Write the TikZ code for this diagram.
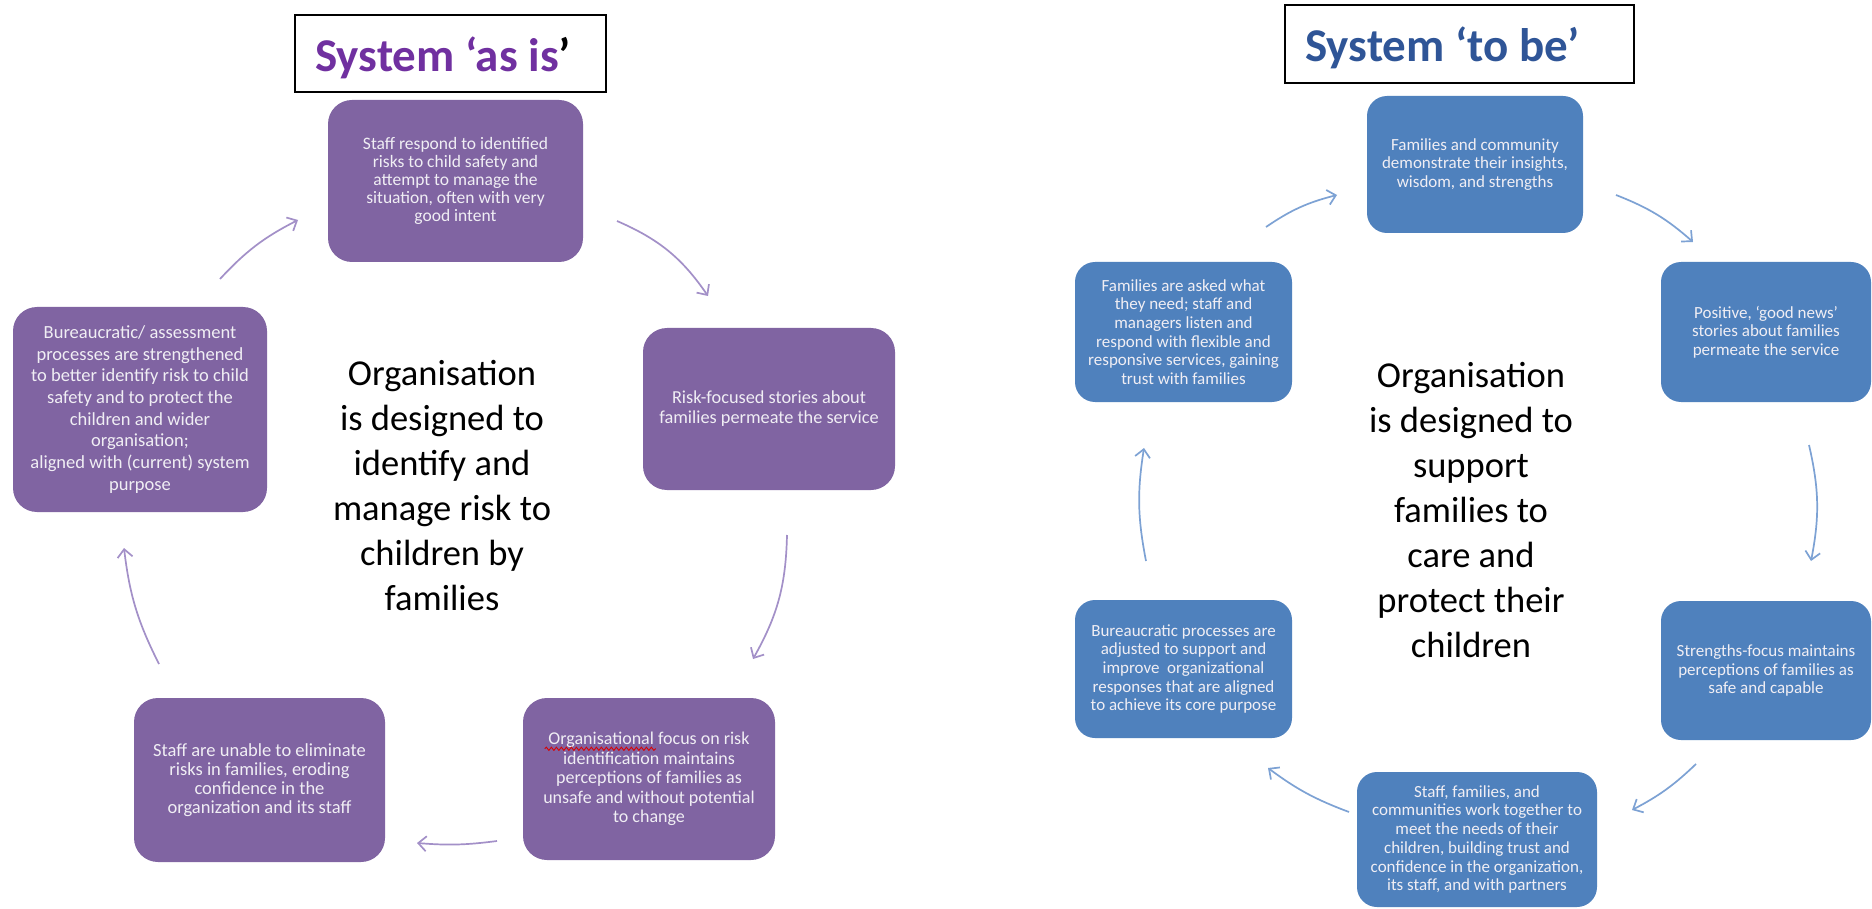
\documentclass[tikz,border=0pt]{standalone}
\usepackage{fontspec}
\setmainfont{Carlito}
\usetikzlibrary{arrows.meta,decorations.pathmorphing,calc}
\definecolor{pfill}{HTML}{8064A2}
\definecolor{parrow}{HTML}{A390C8}
\definecolor{bfill}{HTML}{4F81BD}
\definecolor{barrow}{HTML}{7DA2D4}
\definecolor{ptitle}{HTML}{7030A0}
\definecolor{btitle}{HTML}{2F5597}
\definecolor{boxtext}{HTML}{F0EEF4}
\newcommand\fsz[2]{\fontsize{#1pt}{#2pt}\selectfont}
\begin{document}
\begin{tikzpicture}[x=1pt,y=-1pt,
  pbox/.style={rectangle, rounded corners=24pt, fill=pfill, text=boxtext, align=center, inner sep=0pt},
  bbox/.style={rectangle, rounded corners=20pt, fill=bfill, text=boxtext, align=center, inner sep=0pt},
  parr/.style={draw=parrow, line width=1.7pt, -{Straight Barb[length=8pt,width=15pt]}},
  barr/.style={draw=barrow, line width=1.7pt, -{Straight Barb[length=8pt,width=15pt]}},
  titlebox/.style={draw=black, line width=1.8pt, fill=white, inner sep=0pt},
  centertext/.style={align=center, text=black, font=\fsz{36.5}{45}},
  titletext/.style={anchor=base west, inner sep=0pt, font=\bfseries\fsz{47}{56}}
]
\useasboundingbox (0,0) rectangle (1872,909);
\fill[white] (0,0) rectangle (1872,909);

% ---------- left: System 'as is' ----------
\node[titlebox, minimum width=311pt, minimum height=77pt] (T1) at (450.5,53.5) {};
\node[titletext] (TT1) at (315,72) {\textcolor{ptitle}{System ‘as is}\textcolor{black}{’}};

\node[pbox, minimum width=255pt, minimum height=162pt, font=\fsz{17.5}{17.8}] (N1) at (455.5,181)
  {Staff respond to identified\\risks to child safety and\\attempt to manage the\\situation, often with very\\good intent};
\node[pbox, minimum width=252pt, minimum height=162pt, font=\fsz{18.3}{20}] (N2) at (769,409)
  {Risk-focused stories about\\families permeate the service};
\node[pbox, minimum width=252pt, minimum height=162pt, font=\fsz{18}{19.6}] (N3) at (649,779)
  {Organisational focus on risk\\identification maintains\\perceptions of families as\\unsafe and without potential\\to change};
\node[pbox, minimum width=251pt, minimum height=164pt, font=\fsz{18.5}{19}] (N4) at (259.5,780)
  {Staff are unable to eliminate\\risks in families, eroding\\confidence in the\\organization and its staff};
\node[pbox, minimum width=254pt, minimum height=205pt, font=\fsz{18.5}{21.7}] (N5) at (140,409.5)
  {Bureaucratic/ assessment\\processes are strengthened\\to better identify risk to child\\safety and to protect the\\children and wider\\organisation;\\aligned with (current) system\\purpose};

\node[centertext] (C1) at (442,486)
  {Organisation\\is designed to\\identify and\\manage risk to\\children by\\families};

% spell-check wave under "Organisational"
\coordinate (w1) at ($(N3.north west)+(22,51)$);
\coordinate (w2) at ($(N3.north west)+(133,51)$);
\draw[red!85!black, line width=0.9pt, decorate, decoration={snake, amplitude=1.6pt, segment length=5pt}] (w1) -- (w2);

\coordinate (a1s) at (617,221); \coordinate (a1e) at (708,296);
\coordinate (a2s) at (787,535); \coordinate (a2e) at (753,659);
\coordinate (a3s) at (497,841); \coordinate (a3e) at (417,843);
\coordinate (a4s) at (159,664); \coordinate (a4e) at (124,548);
\coordinate (a5s) at (220,279); \coordinate (a5e) at (298,220);
\draw[parr] (a1s) to[bend left=16] (a1e);
\draw[parr] (a2s) to[bend left=14] (a2e);
\draw[parr] (a3s) to[bend left=6] (a3e);
\draw[parr] (a4s) to[bend left=10] (a4e);
\draw[parr] (a5s) to[bend left=10] (a5e);

% ---------- right: System 'to be' ----------
\node[titlebox, minimum width=349pt, minimum height=78pt] (T2) at (1459.5,44) {};
\node[titletext] (TT2) at (1305,62) {\textcolor{btitle}{System ‘to be’}};

\node[bbox, minimum width=216pt, minimum height=137pt, font=\fsz{17}{18.7}] (R1) at (1475,164.5)
  {Families and community\\demonstrate their insights,\\wisdom, and strengths};
\node[bbox, minimum width=210pt, minimum height=140pt, font=\fsz{17}{18.7}] (R2) at (1766,332)
  {Positive, ‘good news’\\stories about families\\permeate the service};
\node[bbox, minimum width=210pt, minimum height=139pt, font=\fsz{17}{18.7}] (R3) at (1766,670.5)
  {Strengths-focus maintains\\perceptions of families as\\safe and capable};
\node[bbox, minimum width=240pt, minimum height=135pt, font=\fsz{17}{18.7}] (R4) at (1477,839.5)
  {Staff, families, and\\communities work together to\\meet the needs of their\\children, building trust and\\confidence in the organization,\\its staff, and with partners};
\node[bbox, minimum width=217pt, minimum height=138pt, font=\fsz{17}{18.7}] (R5) at (1183.5,669)
  {Bureaucratic processes are\\adjusted to support and\\improve\ \ organizational\\responses that are aligned\\to achieve its core purpose};
\node[bbox, minimum width=217pt, minimum height=140pt, font=\fsz{17}{18.7}] (R6) at (1183.5,332)
  {Families are asked what\\they need; staff and\\managers listen and\\respond with flexible and\\responsive services, gaining\\trust with families};

\node[centertext] (C2) at (1471,510)
  {Organisation\\is designed to\\support\\families to\\care and\\protect their\\children};

\coordinate (b1s) at (1266,227); \coordinate (b1e) at (1337,195);
\coordinate (b2s) at (1616,195); \coordinate (b2e) at (1693,242);
\coordinate (b3s) at (1809,445); \coordinate (b3e) at (1811,561);
\coordinate (b4s) at (1696,764); \coordinate (b4e) at (1632,810);
\coordinate (b5s) at (1349,812); \coordinate (b5e) at (1268,768);
\coordinate (b6s) at (1146,561); \coordinate (b6e) at (1144,448);
\draw[barr] (b1s) to[bend left=10] (b1e);
\draw[barr] (b2s) to[bend left=10] (b2e);
\draw[barr] (b3s) to[bend left=12] (b3e);
\draw[barr] (b4s) to[bend left=8] (b4e);
\draw[barr] (b5s) to[bend left=8] (b5e);
\draw[barr] (b6s) to[bend left=10] (b6e);
\end{tikzpicture}
\end{document}
